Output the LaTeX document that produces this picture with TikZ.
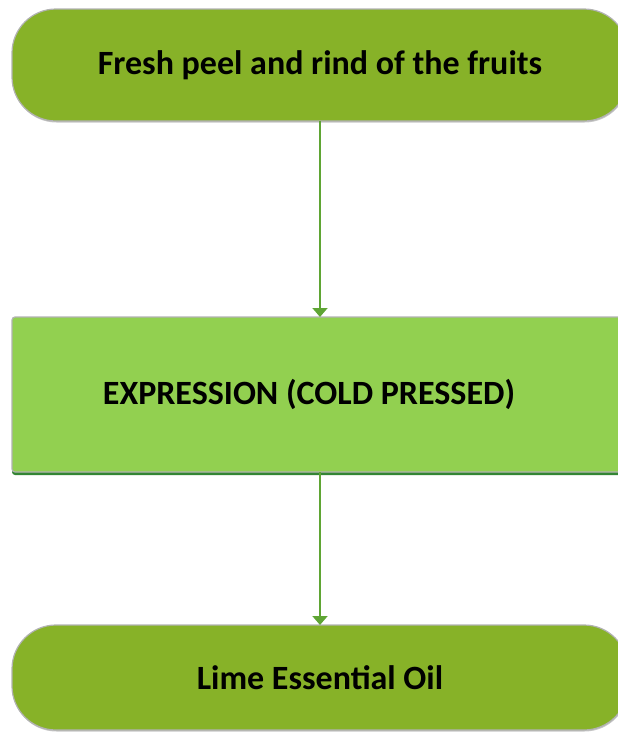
\documentclass[tikz,border=0pt]{standalone}
\usepackage{fontspec}
\setmainfont{Carlito}
\usepackage{xcolor}
\usepackage{tikz}
\usetikzlibrary{arrows.meta,positioning,shadows}
\definecolor{oliveleaf}{HTML}{87B228}
\definecolor{limegreen}{HTML}{92D050}
\definecolor{stemgreen}{HTML}{5FA534}

\begin{document}
\begin{tikzpicture}[
    x=1pt, y=1pt,
    font=\fontsize{34}{40}\selectfont\bfseries,
    capsule/.style={rectangle, rounded corners=44pt, draw=black!30, line width=1.2pt, outer sep=0pt,
        minimum width=616pt, fill=oliveleaf, align=center,
        drop shadow={shadow xshift=0.5pt, shadow yshift=-1.5pt, opacity=0.45}},
    procbox/.style={rectangle, rounded corners=3pt, draw=black!30, line width=1.2pt, outer sep=0pt,
        minimum width=616pt, minimum height=155pt, fill=limegreen, align=center,
        drop shadow={shadow xshift=0pt, shadow yshift=-3pt, opacity=0.8, fill=green!40!black}},
    arrow/.style={-{Triangle[width=15pt,length=9pt]}, line width=1.8pt, draw=stemgreen}
]
    \clip (0,0) rectangle (618,-732);
    \node[capsule, minimum height=112pt] (peel) at (320,-65) {Fresh peel and rind of the fruits};
    \node[procbox, below=196pt of peel] (press) {EXPRESSION (COLD PRESSED)\hspace*{22pt}};
    \node[capsule, minimum height=105pt, below=153pt of press] (oil) {Lime Essential Oil};

    \draw[arrow] (peel) -- (press);
    \draw[arrow] (press) -- (oil);
\end{tikzpicture}
\end{document}
